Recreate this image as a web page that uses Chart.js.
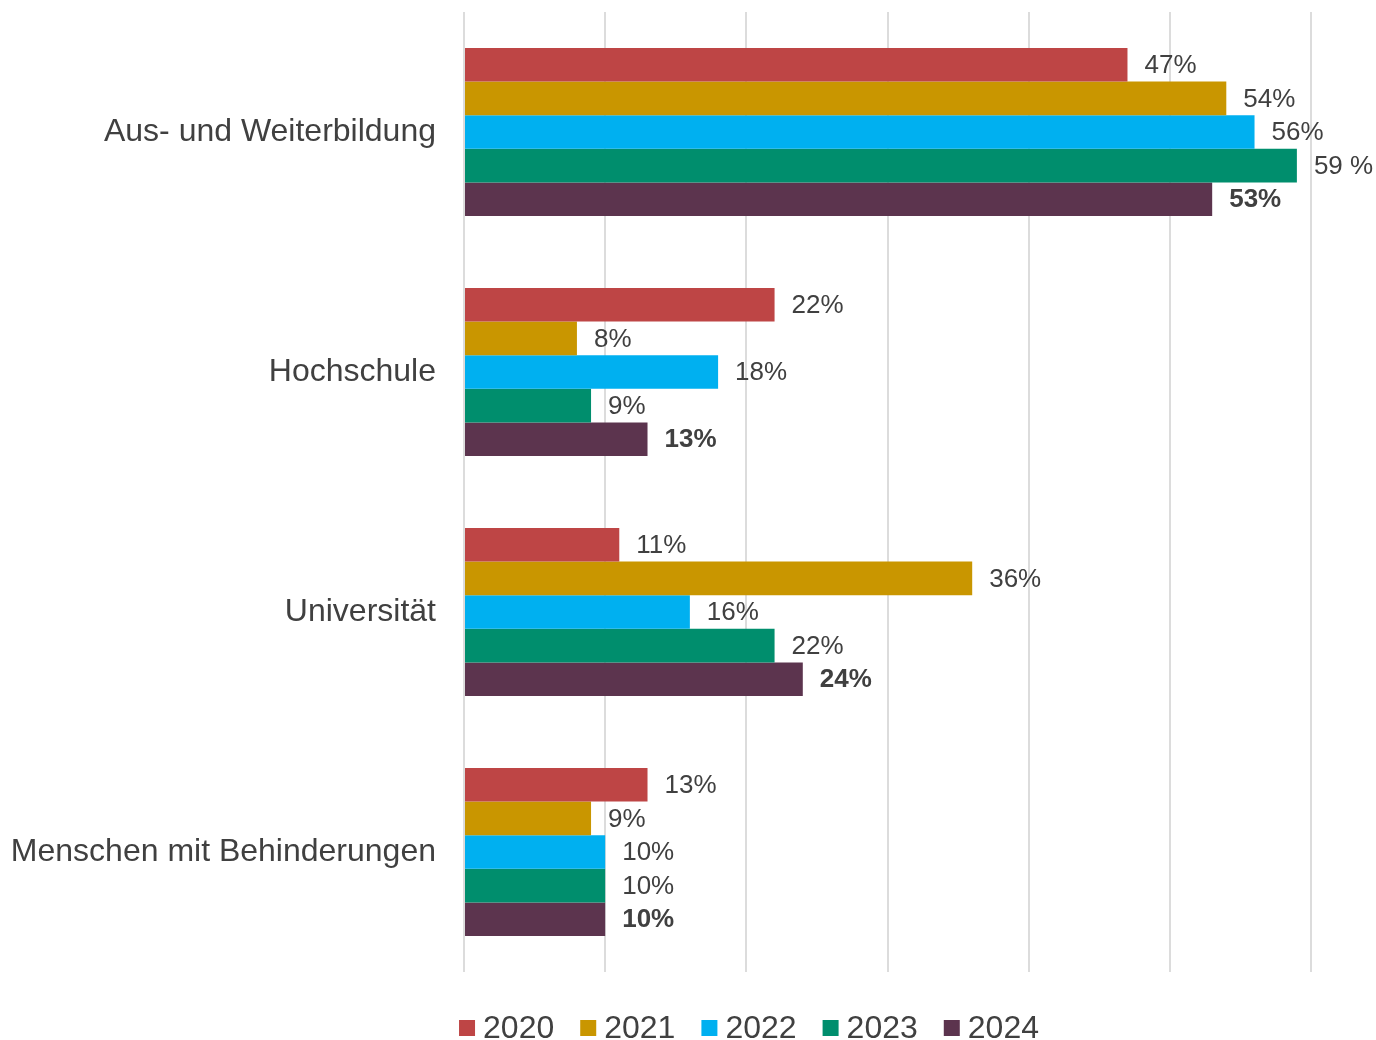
<!DOCTYPE html>
<html lang="de">
<head>
<meta charset="utf-8">
<title>Anteile nach Bereich 2020–2024</title>
<script src="https://cdn.jsdelivr.net/npm/chart.js@4/dist/chart.umd.min.js"></script>
<style>
    html, body { margin: 0; padding: 0; background: #fff; }
    #wrap { width: 1376px; height: 1040px; position: relative; }
</style>
</head>
<body>
<div id="wrap"><canvas id="barChart"></canvas></div>
<script>
// Kategorien und Werte (in %)
const categories = ['Aus- und Weiterbildung', 'Hochschule', 'Universität', 'Menschen mit Behinderungen'];
const years = ['2020', '2021', '2022', '2023', '2024'];
const values2020 = [47, 22, 11, 13];
const values2021 = [54, 8, 36, 9];
const values2022 = [56, 18, 16, 10];
const values2023 = [59, 9, 22, 10];
const values2024 = [53, 13, 24, 10];
const xTicks = [0, 10, 20, 30, 40, 50, 60];

const colors = ['#BE4545', '#C99600', '#00B0F0', '#008E6D', '#5C344E'];
const textColor = '#404040';
const fontFamily = '"Liberation Sans", Arial, sans-serif';

// Sonderfall: im Original steht hier "59 %"
const labelOverrides = { '3-0': '59 %' };

const allValues = [values2020, values2021, values2022, values2023, values2024];

// Datenbeschriftungen rechts neben den Balken
const valueLabels = {
    id: 'valueLabels',
    afterDatasetsDraw(chart) {
        const ctx = chart.ctx;
        ctx.save();
        ctx.fillStyle = textColor;
        ctx.textAlign = 'left';
        ctx.textBaseline = 'middle';
        chart.data.datasets.forEach((ds, di) => {
            const meta = chart.getDatasetMeta(di);
            ctx.font = (di === 4 ? 'bold ' : '') + '26px ' + fontFamily;
            meta.data.forEach((bar, i) => {
                const txt = labelOverrides[di + '-' + i] || ds.data[i] + '%';
                ctx.fillText(txt, bar.x + 17, bar.y + 1);
            });
        });
        ctx.restore();
    }
};

// Legende unten (eigene Zeichnung, damit die Abstände passen)
const bottomLegend = {
    id: 'bottomLegend',
    afterDraw(chart) {
        const ctx = chart.ctx;
        ctx.save();
        ctx.font = '32px ' + fontFamily;
        ctx.textBaseline = 'middle';
        const box = 16, gapBox = 8, gapItem = 26;
        let total = 0;
        const widths = chart.data.datasets.map(ds => ctx.measureText(ds.label).width);
        widths.forEach(w => { total += box + gapBox + w; });
        total += gapItem * (widths.length - 1);
        let x = 749 - total / 2;
        const y = 1028;
        chart.data.datasets.forEach((ds, i) => {
            ctx.fillStyle = ds.backgroundColor;
            ctx.fillRect(x, y - box / 2, box, box);
            ctx.fillStyle = textColor;
            ctx.fillText(ds.label, x + box + gapBox, y + 1);
            x += box + gapBox + widths[i] + gapItem;
        });
        ctx.restore();
    }
};

const chart = new Chart(document.getElementById('barChart'), {
    type: 'bar',
    data: {
        labels: categories,
        datasets: years.map((y, i) => ({
            label: y,
            data: allValues[i],
            backgroundColor: colors[i],
            borderWidth: 0,
            categoryPercentage: 0.7,
            barPercentage: 1.0
        }))
    },
    options: {
        indexAxis: 'y',
        responsive: true,
        maintainAspectRatio: false,
        animation: false,
        layout: {
            padding: { top: 12, right: 65, bottom: 68, left: 0 }
        },
        plugins: {
            legend: { display: false },
            tooltip: { enabled: false }
        },
        scales: {
            x: {
                min: 0,
                max: 60,
                afterBuildTicks: scale => { scale.ticks = xTicks.map(v => ({ value: v })); },
                ticks: { display: false },
                grid: { color: '#DCDCDC', lineWidth: 2, drawTicks: false },
                border: { display: false }
            },
            y: {
                afterFit: scale => {
                    scale.width = 464;
                    scale.paddingTop = 0;
                    scale.paddingBottom = 0;
                },
                ticks: {
                    color: textColor,
                    padding: 28,
                    font: { family: fontFamily, size: 32 }
                },
                grid: { display: false, drawTicks: false },
                border: { display: false }
            }
        }
    },
    plugins: [valueLabels, bottomLegend]
});
</script>
</body>
</html>
